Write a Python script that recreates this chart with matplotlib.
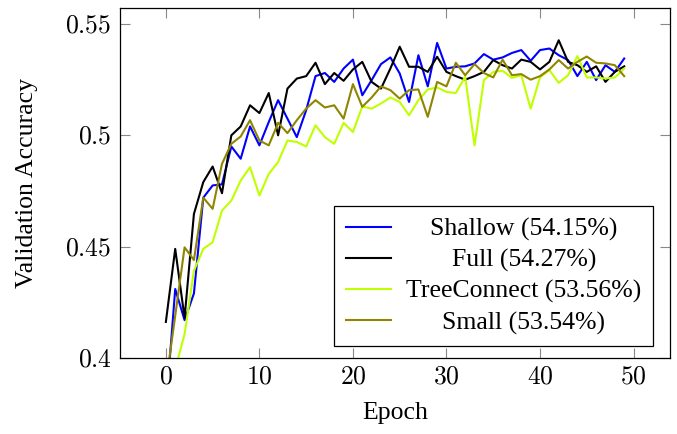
import numpy as np
import matplotlib
matplotlib.use('Agg')
import matplotlib.pyplot as plt

plt.rcParams['font.family'] = ['Liberation Serif', 'DejaVu Serif']
plt.rcParams['mathtext.fontset'] = 'cm'

epochs = list(range(50))

shallow = [0.377, 0.431, 0.417, 0.429, 0.472, 0.4775, 0.478, 0.495, 0.4895, 0.504,
           0.4955, 0.506, 0.5158, 0.5075, 0.4992, 0.5113, 0.5266, 0.528, 0.524, 0.530,
           0.534, 0.518, 0.5248, 0.532, 0.535, 0.5278, 0.515, 0.536, 0.522, 0.5415,
           0.530, 0.5308, 0.531, 0.5323, 0.5365, 0.534, 0.535, 0.537, 0.5383, 0.5335,
           0.5383, 0.539, 0.536, 0.5338, 0.5266, 0.533, 0.5248, 0.5315, 0.5285, 0.5345]

full = [0.4162, 0.449, 0.418, 0.4647, 0.479, 0.486, 0.474, 0.500, 0.504, 0.5135,
        0.510, 0.519, 0.500, 0.521, 0.5255, 0.5266, 0.5326, 0.523, 0.528, 0.5245,
        0.5296, 0.533, 0.524, 0.521, 0.530, 0.5398, 0.5308, 0.5308, 0.5285, 0.5353,
        0.5285, 0.5266, 0.525, 0.5266, 0.5285, 0.5338, 0.5315, 0.530, 0.534, 0.533,
        0.5296, 0.533, 0.5427, 0.533, 0.5315, 0.5285, 0.531, 0.524, 0.5285, 0.531]

treeconnect = [0.375, 0.395, 0.4107, 0.4392, 0.449, 0.452, 0.4662, 0.4707, 0.4797, 0.4857,
               0.473, 0.4827, 0.488, 0.4977, 0.497, 0.495, 0.5045, 0.4992, 0.4962, 0.5056,
               0.5015, 0.513, 0.512, 0.5143, 0.517, 0.515, 0.509, 0.5158, 0.5206, 0.5215,
               0.5195, 0.519, 0.5263, 0.4955, 0.5248, 0.5285, 0.529, 0.5258, 0.527, 0.512,
               0.526, 0.5293, 0.5236, 0.527, 0.5356, 0.526, 0.526, 0.5255, 0.526, 0.530]

small = [0.3885, 0.419, 0.4497, 0.444, 0.472, 0.467, 0.4872, 0.4962, 0.4995, 0.5068,
         0.4977, 0.4955, 0.5056, 0.501, 0.5068, 0.512, 0.5158, 0.5125, 0.5135, 0.5075,
         0.523, 0.5128, 0.517, 0.522, 0.5203, 0.5165, 0.5203, 0.5206, 0.5083, 0.524,
         0.522, 0.5326, 0.527, 0.532, 0.528, 0.526, 0.534, 0.527, 0.5275, 0.525,
         0.5266, 0.5296, 0.5338, 0.530, 0.533, 0.5354, 0.5326, 0.5323, 0.5315, 0.5266]

labels = ['Shallow (54.15%)', 'Full (54.27%)', 'TreeConnect (53.56%)', 'Small (53.54%)']
colors = ['#0000ff', '#000000', '#bfff00', '#908500']
xticks = [0, 10, 20, 30, 40, 50]
yticks = [0.4, 0.45, 0.5, 0.55]

fig = plt.figure(figsize=(6.77, 4.34), dpi=100)
ax = fig.add_axes([0.1773, 0.1751, 0.8124, 0.8065])

for ys, lab, c in zip([shallow, full, treeconnect, small], labels, colors):
    ax.plot(epochs, ys, color=c, linewidth=1.5, label=lab)

ax.set_xlim(-4.9, 53.9)
ax.set_ylim(0.4, 0.5572)
ax.set_xticks(xticks)
ax.set_xticklabels([f'${t}$' for t in xticks])
ax.set_yticks(yticks)
ax.set_yticklabels([f'${t:g}$' for t in yticks])
ax.tick_params(direction='in', length=7, width=0.8, color='#888888',
               top=True, right=True, labelsize=18.5, pad=6)
for spine in ax.spines.values():
    spine.set_linewidth(0.9)

ax.set_xlabel('Epoch', fontsize=18.5, labelpad=10)
ax.set_ylabel('Validation Accuracy', fontsize=18.5, labelpad=20)

leg = ax.legend(loc='lower right', fontsize=18.5, frameon=True, fancybox=False,
                framealpha=1, edgecolor='black', handlelength=1.75,
                handletextpad=0.6, borderpad=0.45, labelspacing=0.3,
                borderaxespad=0, bbox_to_anchor=(0.969, 0.034))
leg.get_frame().set_linewidth(0.9)

# center the legend entries like pgfplots does
fig.canvas.draw()
renderer = fig.canvas.get_renderer()
widths = [t.get_window_extent(renderer).width for t in leg.get_texts()]
maxw = max(widths)
for t, w in zip(leg.get_texts(), widths):
    t.set_position(((maxw - w) / 2, 0))

fig.savefig('out.png', dpi=100)
